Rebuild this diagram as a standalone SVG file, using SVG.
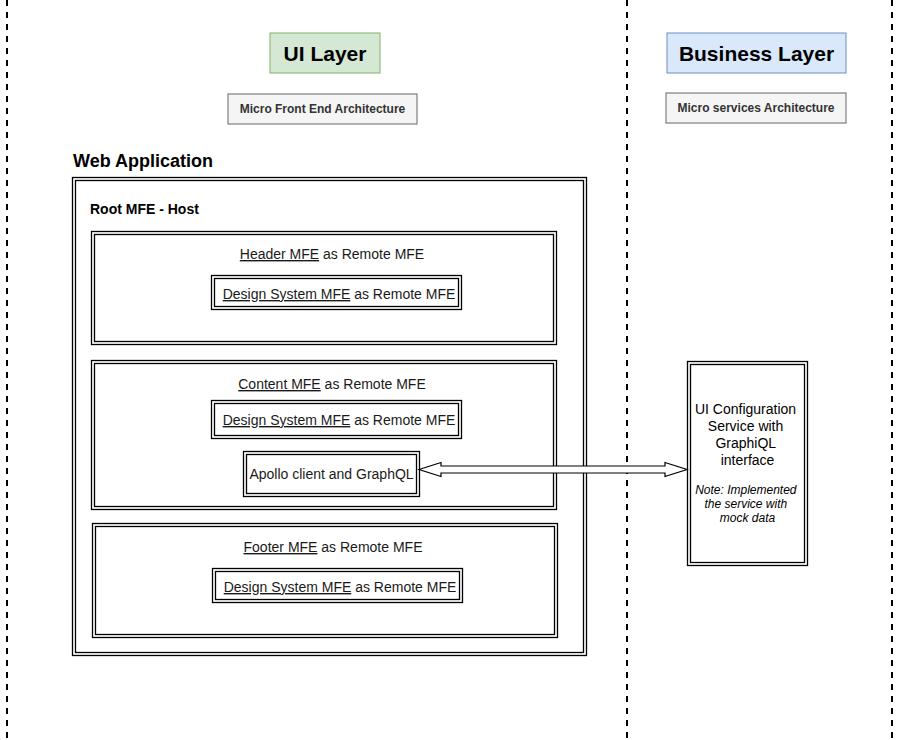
<svg xmlns="http://www.w3.org/2000/svg" width="898" height="740" viewBox="0 0 898 740">
<defs>
<style>
.bg{fill:#ffffff}
.dash{stroke:#000;stroke-width:2;stroke-dasharray:6 6;fill:none}
.dbl{fill:none;stroke:#000;stroke-width:1.3}
.t{font-family:"Liberation Sans",Arial,sans-serif;fill:#000}
.lbl{font-size:14px;fill:#1a1a1a}
.u{text-decoration:underline}
.sub{fill:#f5f5f5;stroke:#666666;stroke-width:1}
.subt{font-size:12px;font-weight:bold;fill:#333333}
</style>
</defs>
<rect class="bg" x="0" y="0" width="898" height="740"/>
<g id="dividers">
<line class="dash" x1="7" y1="0" x2="7" y2="740"/>
<line class="dash" x1="627" y1="0" x2="627" y2="740"/>
<line class="dash" x1="892" y1="0" x2="892" y2="740"/>
</g>
<g id="ui-layer">
<rect x="270" y="33" width="110" height="40" fill="#d5e8d4" stroke="#82b366"/>
<text class="t" x="325" y="61" font-size="21" font-weight="bold" text-anchor="middle">UI Layer</text>
</g>
<g id="business-layer">
<rect x="667" y="33" width="179" height="40" fill="#dae8fc" stroke="#6c8ebf"/>
<text class="t" x="756.5" y="61" font-size="21" font-weight="bold" text-anchor="middle">Business Layer</text>
</g>
<g id="mfe-arch">
<rect class="sub" x="228" y="94" width="189" height="30"/>
<text class="t subt" x="322.5" y="113" text-anchor="middle">Micro Front End Architecture</text>
</g>
<g id="ms-arch">
<rect class="sub" x="666" y="93" width="180" height="30"/>
<text class="t subt" x="756" y="112" text-anchor="middle">Micro services Architecture</text>
</g>
<g id="web-app-title">
<text class="t" x="73" y="167" font-size="18" font-weight="bold">Web Application</text>
</g>
<g id="root-mfe">
<rect class="dbl" x="72.5" y="177.5" width="514" height="478"/>
<rect class="dbl" x="75.5" y="180.5" width="508" height="472"/>
<text class="t" x="90" y="214" font-size="14" font-weight="bold">Root MFE - Host</text>
</g>
<g id="header-mfe">
<rect class="dbl" x="91.5" y="231.5" width="465" height="113"/>
<rect class="dbl" x="94.5" y="234.5" width="459" height="107"/>
<text class="t lbl" x="332" y="259" text-anchor="middle"><tspan class="u">Header MFE</tspan> as Remote MFE</text>
</g>
<g id="header-ds">
<rect class="dbl" x="211.5" y="275.5" width="250" height="34"/>
<rect class="dbl" x="214.5" y="278.5" width="244" height="28"/>
<text class="t lbl" x="339" y="299" text-anchor="middle"><tspan class="u">Design System MFE</tspan> as Remote MFE</text>
</g>
<g id="content-mfe">
<rect class="dbl" x="91.5" y="360.5" width="465" height="149"/>
<rect class="dbl" x="94.5" y="363.5" width="459" height="143"/>
<text class="t lbl" x="332" y="389" text-anchor="middle"><tspan class="u">Content MFE</tspan> as Remote MFE</text>
</g>
<g id="content-ds">
<rect class="dbl" x="211.5" y="400.5" width="250" height="38"/>
<rect class="dbl" x="214.5" y="403.5" width="244" height="32"/>
<text class="t lbl" x="339" y="425" text-anchor="middle"><tspan class="u">Design System MFE</tspan> as Remote MFE</text>
</g>
<g id="apollo">
<rect class="dbl" x="243.5" y="451.5" width="176" height="45"/>
<rect class="dbl" x="246.5" y="454.5" width="170" height="39"/>
<text class="t lbl" x="331.5" y="479" text-anchor="middle">Apollo client and GraphQL</text>
</g>
<g id="footer-mfe">
<rect class="dbl" x="92.5" y="523.5" width="465" height="114"/>
<rect class="dbl" x="95.5" y="526.5" width="459" height="108"/>
<text class="t lbl" x="333" y="552" text-anchor="middle"><tspan class="u">Footer MFE</tspan> as Remote MFE</text>
</g>
<g id="footer-ds">
<rect class="dbl" x="212.5" y="568.5" width="250" height="34"/>
<rect class="dbl" x="215.5" y="571.5" width="244" height="28"/>
<text class="t lbl" x="340" y="592" text-anchor="middle"><tspan class="u">Design System MFE</tspan> as Remote MFE</text>
</g>
<g id="ui-config-service">
<rect class="dbl" x="687.5" y="361.5" width="120" height="204"/>
<rect class="dbl" x="690.5" y="364.5" width="114" height="198"/>
<text class="t" font-size="14" fill="#1a1a1a" text-anchor="middle">
<tspan x="747.5" y="414">UI Configuration</tspan>
<tspan x="747.5" y="431">Service with</tspan>
<tspan x="747.5" y="448">GraphiQL</tspan>
<tspan x="747.5" y="465">interface</tspan>
</text>
<text class="t" font-size="12" font-style="italic" fill="#1a1a1a" text-anchor="middle">
<tspan x="747.5" y="494">Note: Implemented</tspan>
<tspan x="747.5" y="508">the service with</tspan>
<tspan x="747.5" y="522">mock data</tspan>
</text>
</g>
<g id="connectors">
<path d="M419,469.5 L441,462.5 L441,466 L665,466 L665,462.5 L687,469.5 L665,476.5 L665,473 L441,473 L441,476.5 Z" fill="#ffffff" stroke="#000" stroke-width="1.2" stroke-linejoin="miter"/>
</g>
</svg>
